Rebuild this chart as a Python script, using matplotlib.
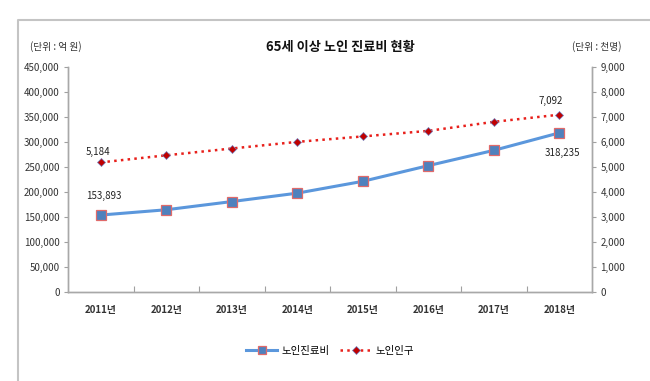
import matplotlib
matplotlib.use("Agg")
import matplotlib.pyplot as plt
from matplotlib.lines import Line2D
from matplotlib.ticker import FuncFormatter, MultipleLocator

plt.rcParams['font.family'] = ['Noto Sans CJK KR', 'DejaVu Sans']

years = ['2011년', '2012년', '2013년', '2014년', '2015년', '2016년', '2017년', '2018년']
cost = [153893, 164494, 180852, 197682, 221349, 252692, 283247, 318235]
pop = [5184, 5468, 5740, 6005, 6223, 6445, 6806, 7092]
cost_name = '노인진료비'
pop_name = '노인인구'
title = '65세 이상 노인 진료비 현황'
left_unit = '(단위 : 억 원)'
right_unit = '(단위 : 천명)'

W, H = 650, 381
fig = plt.figure(figsize=(W / 100, H / 100), dpi=100)

def fx(px):
    return px / W

def fy(py):
    return 1 - py / H

ax = fig.add_axes([fx(68), fy(292), fx(592) - fx(68), fy(67) - fy(292)])
ax2 = ax.twinx()

x = list(range(len(years)))
blue = '#5b97dc'
red = '#e8201b'

ax.plot(x, cost, color=blue, lw=2.2, marker='s', ms=6.5, mfc='#4f81bd',
        mec='#e06a6a', mew=0.9, zorder=3)
ax2.plot(x, pop, color=red, lw=1.8, ls=(0, (1, 1.7)), marker='D', ms=4.5,
         mfc='#c00000', mec='#7080c0', mew=0.5, zorder=3)

ax.set_xlim(-0.5, len(years) - 0.5)
ax.set_ylim(0, 450000)
ax2.set_ylim(0, 9000)
ax.yaxis.set_major_locator(MultipleLocator(50000))
ax2.yaxis.set_major_locator(MultipleLocator(1000))
fmt = FuncFormatter(lambda v, p: f'{int(v):,}')
ax.yaxis.set_major_formatter(fmt)
ax2.yaxis.set_major_formatter(fmt)

ax.set_xticks([i + 0.5 for i in range(len(years) - 1)], minor=False)
ax.set_xticklabels([])
ax.set_xticks(x, minor=True)
ax.set_xticklabels(years, minor=True, fontsize=7, color='#333333', fontweight='bold')
ax.tick_params(axis='x', which='minor', length=0, pad=9)
ax.tick_params(axis='x', which='major', length=4, color='#a0a0a0', direction='in')

ax.tick_params(axis='y', labelsize=7, colors='#333333', length=3, color='#a0a0a0', pad=3)
ax2.tick_params(axis='y', labelsize=7, colors='#333333', length=3, color='#a0a0a0', pad=3)

for a in (ax, ax2):
    a.spines['top'].set_visible(False)
    for s in ('left', 'right', 'bottom'):
        a.spines[s].set_color('#a8a8a8')
        a.spines[s].set_linewidth(1.0)

tcol = '#222222'
ax.annotate(f'{cost[0]:,}', (x[0], cost[0]), xytext=(2, 10), textcoords='offset points',
            ha='center', va='bottom', fontsize=7, color=tcol)
ax.annotate(f'{cost[-1]:,}', (x[-1], cost[-1]), xytext=(2, -11), textcoords='offset points',
            ha='center', va='top', fontsize=7, color=tcol)
ax2.annotate(f'{pop[0]:,}', (x[0], pop[0]), xytext=(-2, 4), textcoords='offset points',
             ha='center', va='bottom', fontsize=7, color=tcol)
ax2.annotate(f'{pop[-1]:,}', (x[-1], pop[-1]), xytext=(-6, 6), textcoords='offset points',
             ha='center', va='bottom', fontsize=7, color=tcol)

fig.text(fx(340), fy(47), title, ha='center', va='center', fontsize=9.5, fontweight='bold', color='#111111')
fig.text(fx(30), fy(47), left_unit, ha='left', va='center', fontsize=7, color='#333333')
fig.text(fx(622), fy(47), right_unit, ha='right', va='center', fontsize=7, color='#333333')

handles = [
    Line2D([], [], color=blue, lw=2.2, marker='s', ms=5.5, mfc='#4f81bd', mec='#e06a6a', mew=0.9),
    Line2D([], [], color=red, lw=1.8, ls=(0, (1, 1.7)), marker='D', ms=4, mfc='#c00000', mec='#7080c0', mew=0.5),
]
fig.legend(handles, [cost_name, pop_name], loc='center', bbox_to_anchor=(fx(330), fy(351)),
           ncol=2, frameon=False, fontsize=7.5, handlelength=3.0, columnspacing=1.0,
           handletextpad=0.4)

# outer chart frame (partially cropped)
fig.add_artist(Line2D([fx(18), fx(18), fx(650)], [fy(381), fy(20), fy(20)],
                      transform=fig.transFigure, color='#c4c4c4', lw=1.5))

fig.savefig('out.png', dpi=100, facecolor='white')
